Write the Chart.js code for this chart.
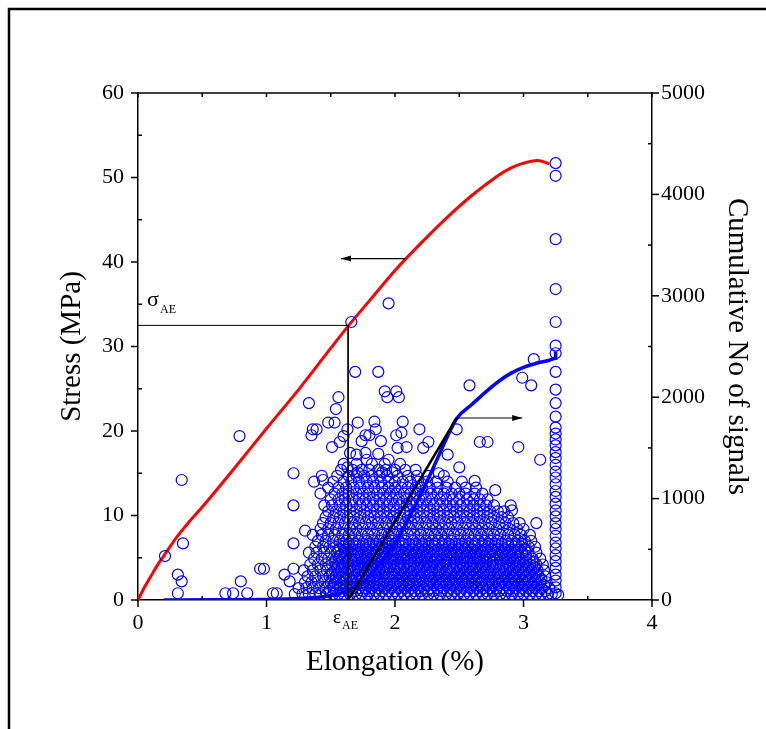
<!DOCTYPE html>
<html>
<head>
<meta charset="utf-8">
<script src="https://cdn.jsdelivr.net/npm/chart.js@4.4.1/dist/chart.umd.min.js"></script>
<style>
html, body { margin: 0; padding: 0; background: #fff; }
</style>
</head>
<body>
<canvas id="chart" width="766" height="729"></canvas>
<script>
// axes
const x_ticks = [0, 1, 2, 3, 4];
const x_minor = [0.5, 1.5, 2.5, 3.5];
const stress_ticks = [0, 10, 20, 30, 40, 50, 60];
const stress_minor = [5, 15, 25, 35, 45, 55];
const count_ticks = [0, 1000, 2000, 3000, 4000, 5000];
const count_minor = [500, 1500, 2500, 3500, 4500];

// stress curve (left axis)
const stress_x = [0, 0.05, 0.1, 0.15, 0.2, 0.3, 0.4, 0.5, 0.75, 1.0, 1.25, 1.5, 1.64, 1.8, 2.0, 2.2, 2.4, 2.6, 2.8, 2.9, 3.0, 3.1, 3.15, 3.2];
const stress_y = [0, 1.5, 2.8, 4.1, 5.2, 7.4, 9.3, 11.0, 15.6, 20.3, 24.9, 29.8, 32.5, 35.4, 39.0, 42.2, 45.2, 47.9, 50.2, 51.1, 51.7, 52.0, 51.9, 51.6];

// cumulative number of signals (right axis)
const cum_x = [0.2, 0.6, 1.0, 1.2, 1.4, 1.5, 1.6, 1.7, 1.8, 1.9, 2.0, 2.1, 2.2, 2.3, 2.4, 2.48, 2.6, 2.7, 2.8, 2.9, 3.0, 3.1, 3.2, 3.25, 3.25];
const cum_y = [0, 2, 6, 12, 28, 45, 75, 120, 230, 380, 560, 790, 1040, 1310, 1590, 1790, 1930, 2045, 2150, 2235, 2295, 2335, 2365, 2385, 2450];

// onset of AE
const eps_ae = 1.635;
const sigma_ae = 32.5;
const tangent_x = [eps_ae, 2.48];
const tangent_y = [0, 1795];

// arrows: [x_from, x_to, y]
const arrow_stress = [2.08, 1.58, 40.4];
const arrow_count = [2.48, 2.99, 1795];

// AE signals, isolated ones
const signal_pairs = [
	[0.21, 5.2], [0.35, 6.7], [0.34, 14.2], [0.31, 3.0], [0.34, 2.2], [0.31, 0.8], [0.68, 0.8], [0.74, 0.8],
	[0.85, 0.8], [0.80, 2.2], [0.79, 19.4], [0.95, 3.7], [0.98, 3.7], [1.05, 0.8], [1.08, 0.8], [1.14, 3.0],
	[1.18, 2.2], [1.21, 3.7], [1.21, 6.7], [1.21, 11.2], [1.21, 15.0], [1.33, 23.3], [1.56, 24.0], [1.54, 22.6],
	[1.48, 21.0], [1.53, 21.0], [1.36, 20.2], [1.35, 19.5], [1.39, 20.2], [1.51, 18.1], [1.57, 18.7], [1.60, 19.4],
	[1.63, 20.2], [1.69, 27.0], [1.87, 27.0], [1.66, 32.9], [1.95, 35.1], [1.71, 21.0], [1.84, 21.1], [1.85, 20.2],
	[1.77, 19.5], [1.74, 18.8], [1.80, 19.5], [1.89, 18.8], [1.92, 24.7], [2.01, 24.7], [1.94, 24.0], [2.03, 24.0],
	[2.06, 21.1], [2.01, 19.5], [2.05, 19.8], [2.02, 18.0], [2.09, 18.1], [2.19, 20.2], [2.26, 18.7], [2.22, 18.0],
	[2.48, 20.2], [2.66, 18.7], [2.72, 18.7], [2.96, 18.1], [3.13, 16.6], [2.58, 25.4], [2.99, 26.3], [3.06, 25.4],
	[3.08, 28.5], [2.41, 17.2], [2.50, 15.7], [1.65, 17.4], [1.70, 17.2], [1.77, 17.4], [1.87, 17.3], [1.78, 16.6],
	[1.95, 16.6], [1.63, 15.7], [1.71, 15.1], [1.90, 15.1], [1.98, 15.1], [2.90, 11.2], [2.91, 10.6], [3.10, 9.1],
	[3.27, 0.6], [1.44, 14.2], [1.30, 8.2], [2.34, 15.0], [2.62, 14.1], [2.78, 13.0]
];

// column of signals at failure
const failure_x = 3.25;
const failure_y = [51.7, 50.2, 42.7, 36.8, 32.9, 30.1, 29.2, 27.0, 24.9, 23.3, 21.7, 20.4, 19.7, 19.0, 18.3, 17.5,
	16.8, 16.0, 15.2, 14.5, 13.7, 12.9, 12.2, 11.4, 10.6, 9.9, 9.1, 8.4, 7.6, 6.8, 6.1, 5.3, 4.6, 3.8, 3.0, 2.3, 1.5, 0.8];

// dense cloud, read row by row
const row_levels = [0.7, 1.4, 2.1, 2.8, 3.5, 4.2, 4.9, 5.6, 6.3, 7.0, 7.7, 8.4, 9.1, 9.8, 10.5, 11.2, 11.9, 12.6, 13.3, 14.0, 14.7, 15.4, 16.1,
	1.05, 1.75, 2.45, 3.15, 3.85, 4.55, 5.25, 5.95, 6.65];
const row_x = [
	[1.22, 1.28, 1.33, 1.38, 1.42, 1.47, 1.52, 1.56, 1.6, 1.65, 1.7, 1.74, 1.79, 1.84, 1.88, 1.93, 1.98, 2.02, 2.07, 2.12, 2.16, 2.21, 2.26, 2.3, 2.35, 2.4, 2.44, 2.49, 2.54, 2.58, 2.63, 2.68, 2.72, 2.77, 2.82, 2.86, 2.91, 2.96, 3.0, 3.05, 3.1, 3.14, 3.19, 3.22],
	[1.25, 1.31, 1.36, 1.41, 1.46, 1.52, 1.57, 1.62, 1.67, 1.72, 1.77, 1.82, 1.87, 1.92, 1.97, 2.03, 2.08, 2.13, 2.18, 2.23, 2.28, 2.33, 2.38, 2.43, 2.48, 2.53, 2.59, 2.64, 2.69, 2.74, 2.79, 2.84, 2.89, 2.94, 2.99, 3.04, 3.09, 3.14, 3.2],
	[1.3, 1.35, 1.4, 1.45, 1.5, 1.55, 1.6, 1.66, 1.71, 1.76, 1.81, 1.86, 1.91, 1.96, 2.01, 2.06, 2.11, 2.17, 2.22, 2.27, 2.32, 2.37, 2.42, 2.47, 2.52, 2.57, 2.62, 2.67, 2.73, 2.78, 2.83, 2.88, 2.93, 2.98, 3.03, 3.08, 3.13, 3.18],
	[1.32, 1.38, 1.44, 1.49, 1.54, 1.59, 1.64, 1.69, 1.74, 1.8, 1.85, 1.9, 1.95, 2.0, 2.05, 2.1, 2.15, 2.2, 2.26, 2.31, 2.36, 2.41, 2.46, 2.51, 2.56, 2.61, 2.66, 2.72, 2.77, 2.82, 2.87, 2.92, 2.97, 3.02, 3.07, 3.12, 3.17],
	[1.29, 1.36, 1.42, 1.47, 1.53, 1.58, 1.63, 1.68, 1.73, 1.78, 1.83, 1.88, 1.93, 1.99, 2.04, 2.09, 2.14, 2.19, 2.24, 2.29, 2.34, 2.4, 2.45, 2.5, 2.55, 2.6, 2.65, 2.7, 2.75, 2.81, 2.86, 2.91, 2.96, 3.01, 3.06, 3.11, 3.16],
	[1.34, 1.4, 1.46, 1.51, 1.56, 1.61, 1.66, 1.72, 1.77, 1.82, 1.87, 1.92, 1.97, 2.02, 2.07, 2.12, 2.18, 2.23, 2.28, 2.33, 2.38, 2.43, 2.48, 2.53, 2.59, 2.64, 2.69, 2.74, 2.79, 2.84, 2.89, 2.95, 3.0, 3.05, 3.1, 3.15],
	[1.37, 1.43, 1.48, 1.54, 1.59, 1.64, 1.69, 1.74, 1.79, 1.84, 1.9, 1.95, 2.0, 2.05, 2.1, 2.15, 2.2, 2.25, 2.31, 2.36, 2.41, 2.46, 2.51, 2.56, 2.61, 2.66, 2.71, 2.77, 2.82, 2.87, 2.92, 2.97, 3.02, 3.07, 3.13],
	[1.33, 1.39, 1.45, 1.5, 1.55, 1.61, 1.66, 1.71, 1.76, 1.81, 1.86, 1.92, 1.97, 2.02, 2.07, 2.12, 2.17, 2.22, 2.27, 2.33, 2.38, 2.43, 2.48, 2.53, 2.58, 2.63, 2.68, 2.74, 2.79, 2.84, 2.89, 2.94, 2.99, 3.04, 3.1],
	[1.38, 1.44, 1.49, 1.54, 1.6, 1.65, 1.7, 1.75, 1.8, 1.85, 1.9, 1.96, 2.01, 2.06, 2.11, 2.16, 2.21, 2.26, 2.31, 2.37, 2.42, 2.47, 2.52, 2.57, 2.62, 2.67, 2.72, 2.78, 2.83, 2.88, 2.93, 2.98, 3.04, 3.09],
	[1.4, 1.46, 1.52, 1.57, 1.62, 1.67, 1.72, 1.78, 1.83, 1.88, 1.93, 1.98, 2.03, 2.08, 2.14, 2.19, 2.24, 2.29, 2.34, 2.39, 2.44, 2.5, 2.55, 2.6, 2.65, 2.7, 2.75, 2.8, 2.86, 2.91, 2.96, 3.01, 3.06],
	[1.36, 1.43, 1.48, 1.53, 1.59, 1.64, 1.69, 1.74, 1.79, 1.84, 1.9, 1.95, 2.0, 2.05, 2.1, 2.15, 2.2, 2.26, 2.31, 2.36, 2.41, 2.46, 2.51, 2.57, 2.62, 2.67, 2.72, 2.77, 2.82, 2.88, 2.93, 2.98, 3.05],
	[1.42, 1.48, 1.54, 1.6, 1.65, 1.7, 1.75, 1.81, 1.86, 1.91, 1.96, 2.01, 2.06, 2.12, 2.17, 2.22, 2.27, 2.32, 2.37, 2.42, 2.48, 2.53, 2.58, 2.63, 2.68, 2.73, 2.79, 2.84, 2.89, 2.95, 3.0],
	[1.44, 1.5, 1.56, 1.61, 1.67, 1.72, 1.77, 1.82, 1.87, 1.93, 1.98, 2.03, 2.08, 2.13, 2.18, 2.24, 2.29, 2.34, 2.39, 2.44, 2.49, 2.55, 2.6, 2.65, 2.7, 2.75, 2.81, 2.86, 2.92, 2.97],
	[1.46, 1.52, 1.57, 1.63, 1.68, 1.73, 1.79, 1.84, 1.89, 1.94, 1.99, 2.04, 2.1, 2.15, 2.2, 2.25, 2.3, 2.35, 2.41, 2.46, 2.51, 2.56, 2.61, 2.66, 2.72, 2.77, 2.83, 2.88],
	[1.48, 1.54, 1.6, 1.65, 1.7, 1.76, 1.81, 1.86, 1.91, 1.96, 2.01, 2.07, 2.12, 2.17, 2.22, 2.27, 2.33, 2.38, 2.43, 2.48, 2.53, 2.58, 2.64, 2.69, 2.74, 2.8, 2.85],
	[1.45, 1.51, 1.57, 1.62, 1.67, 1.73, 1.78, 1.83, 1.88, 1.94, 1.99, 2.04, 2.09, 2.14, 2.2, 2.25, 2.3, 2.35, 2.4, 2.45, 2.51, 2.56, 2.61, 2.66, 2.71, 2.77],
	[1.5, 1.56, 1.61, 1.67, 1.72, 1.77, 1.83, 1.88, 1.93, 1.98, 2.03, 2.09, 2.14, 2.19, 2.24, 2.29, 2.35, 2.4, 2.45, 2.5, 2.56, 2.61, 2.66, 2.72],
	[1.42, 1.53, 1.59, 1.64, 1.7, 1.75, 1.8, 1.86, 1.91, 1.96, 2.01, 2.07, 2.12, 2.17, 2.22, 2.28, 2.33, 2.38, 2.44, 2.5, 2.55, 2.62, 2.68],
	[1.48, 1.56, 1.62, 1.68, 1.73, 1.79, 1.84, 1.9, 1.95, 2.0, 2.05, 2.1, 2.16, 2.21, 2.27, 2.33, 2.4, 2.47, 2.55, 2.63],
	[1.37, 1.52, 1.6, 1.66, 1.72, 1.78, 1.83, 1.89, 1.95, 2.0, 2.06, 2.12, 2.18, 2.25, 2.32, 2.41, 2.52],
	[1.43, 1.55, 1.64, 1.7, 1.76, 1.82, 1.88, 1.94, 2.02, 2.1, 2.17, 2.26, 2.38],
	[1.58, 1.67, 1.74, 1.8, 1.87, 1.93, 2.0, 2.08, 2.16],
	[1.6, 1.7, 1.82, 1.92, 2.04],
	// in-between rows of the densest part
	[1.49, 1.54, 1.59, 1.64, 1.69, 1.75, 1.8, 1.85, 1.9, 1.95, 2.0, 2.05, 2.1, 2.15, 2.2, 2.25, 2.3, 2.36, 2.41, 2.46, 2.51, 2.56, 2.61, 2.66, 2.71, 2.76, 2.81, 2.87, 2.92, 2.97, 3.02, 3.07, 3.12, 3.17],
	[1.52, 1.57, 1.62, 1.68, 1.73, 1.78, 1.83, 1.88, 1.94, 1.99, 2.04, 2.09, 2.14, 2.19, 2.25, 2.3, 2.35, 2.4, 2.45, 2.5, 2.55, 2.6, 2.65, 2.71, 2.76, 2.81, 2.86, 2.91, 2.96, 3.01, 3.06, 3.11, 3.16],
	[1.54, 1.6, 1.65, 1.7, 1.75, 1.8, 1.86, 1.91, 1.96, 2.01, 2.06, 2.11, 2.16, 2.21, 2.27, 2.32, 2.37, 2.42, 2.47, 2.52, 2.57, 2.63, 2.68, 2.73, 2.78, 2.83, 2.88, 2.93, 2.99, 3.04, 3.09, 3.14],
	[1.51, 1.56, 1.62, 1.67, 1.72, 1.77, 1.82, 1.87, 1.92, 1.98, 2.03, 2.08, 2.13, 2.18, 2.23, 2.28, 2.34, 2.39, 2.44, 2.49, 2.54, 2.59, 2.64, 2.69, 2.74, 2.8, 2.85, 2.9, 2.95, 3.0, 3.05, 3.1],
	[1.55, 1.6, 1.65, 1.71, 1.76, 1.81, 1.86, 1.91, 1.96, 2.02, 2.07, 2.12, 2.17, 2.22, 2.27, 2.32, 2.37, 2.43, 2.48, 2.53, 2.58, 2.63, 2.68, 2.73, 2.78, 2.84, 2.89, 2.94, 2.99, 3.04, 3.09],
	[1.53, 1.58, 1.63, 1.68, 1.74, 1.79, 1.84, 1.89, 1.94, 1.99, 2.04, 2.1, 2.15, 2.2, 2.25, 2.3, 2.35, 2.4, 2.46, 2.51, 2.56, 2.61, 2.66, 2.71, 2.76, 2.82, 2.87, 2.92, 2.97, 3.02, 3.08],
	[1.57, 1.62, 1.68, 1.73, 1.78, 1.83, 1.88, 1.93, 1.99, 2.04, 2.09, 2.14, 2.19, 2.24, 2.29, 2.35, 2.4, 2.45, 2.5, 2.55, 2.6, 2.65, 2.7, 2.76, 2.81, 2.86, 2.91, 2.96, 3.02],
	[1.56, 1.61, 1.66, 1.71, 1.77, 1.82, 1.87, 1.92, 1.97, 2.02, 2.08, 2.13, 2.18, 2.23, 2.28, 2.33, 2.38, 2.44, 2.49, 2.54, 2.59, 2.64, 2.69, 2.75, 2.8, 2.85, 2.9, 2.95, 3.01],
	[1.59, 1.64, 1.69, 1.75, 1.8, 1.85, 1.9, 1.95, 2.0, 2.06, 2.11, 2.16, 2.21, 2.26, 2.31, 2.37, 2.42, 2.47, 2.52, 2.57, 2.62, 2.68, 2.73, 2.78, 2.83, 2.88, 2.94, 2.99]
];

// build point lists
const toPoints = (xs, ys) => xs.map((x, i) => ({ x: x, y: ys[i] }));
let signal_points = signal_pairs.map((p) => ({ x: p[0], y: p[1] }));
failure_y.forEach((y) => signal_points.push({ x: failure_x, y: y }));
row_levels.forEach((y, i) => {
	row_x[i].forEach((x) => signal_points.push({ x: x, y: y }));
});

const serif = "'Liberation Serif', 'DejaVu Serif', serif";

// ticks, frame, arrows, labels
const extras = {
	id: "extras",
	afterDatasetsDraw(chart) {
		const { ctx, chartArea: a, scales } = chart;
		const xs = scales.x, ys = scales.y, yc = scales.y1;
		const line = (x1, y1, x2, y2) => {
			ctx.beginPath();
			ctx.moveTo(x1, y1);
			ctx.lineTo(x2, y2);
			ctx.stroke();
		};
		ctx.save();
		ctx.strokeStyle = "#000";
		ctx.fillStyle = "#000";

		// outer frame
		ctx.lineWidth = 2.5;
		ctx.beginPath();
		ctx.moveTo(9, 729);
		ctx.lineTo(9, 9);
		ctx.lineTo(766, 9);
		ctx.stroke();

		// top border of plot
		ctx.lineWidth = 1.5;
		line(a.left, a.top, a.right, a.top);

		// tick marks
		x_ticks.forEach((v) => {
			const p = xs.getPixelForValue(v);
			line(p, a.bottom, p, a.bottom + 7);
			line(p, a.top, p, a.top + 4);
		});
		x_minor.forEach((v) => {
			const p = xs.getPixelForValue(v);
			line(p, a.bottom, p, a.bottom - 4);
			line(p, a.top, p, a.top + 4);
		});
		stress_ticks.forEach((v) => {
			const p = ys.getPixelForValue(v);
			line(a.left - 7, p, a.left, p);
		});
		stress_minor.forEach((v) => {
			const p = ys.getPixelForValue(v);
			line(a.left, p, a.left + 4, p);
		});
		count_ticks.forEach((v) => {
			const p = yc.getPixelForValue(v);
			line(a.right, p, a.right + 7, p);
		});
		count_minor.forEach((v) => {
			const p = yc.getPixelForValue(v);
			line(a.right - 4, p, a.right, p);
		});

		// arrows
		const arrow = (x1, x2, py) => {
			ctx.lineWidth = 1.2;
			line(x1, py, x2, py);
			const dir = x2 > x1 ? 1 : -1;
			ctx.beginPath();
			ctx.moveTo(x2, py);
			ctx.lineTo(x2 - dir * 10, py - 3);
			ctx.lineTo(x2 - dir * 10, py + 3);
			ctx.closePath();
			ctx.fill();
		};
		arrow(xs.getPixelForValue(arrow_stress[0]), xs.getPixelForValue(arrow_stress[1]), ys.getPixelForValue(arrow_stress[2]));
		arrow(xs.getPixelForValue(arrow_count[0]), xs.getPixelForValue(arrow_count[1]), yc.getPixelForValue(arrow_count[2]));

		// sigma_AE and epsilon_AE labels
		ctx.textBaseline = "alphabetic";
		ctx.textAlign = "left";
		const sx = xs.getPixelForValue(0.07), sy = ys.getPixelForValue(34.8);
		ctx.font = "22px " + serif;
		ctx.fillText("σ", sx, sy);
		ctx.font = "12px " + serif;
		ctx.fillText("AE", sx + 13, sy + 7);
		const ex = xs.getPixelForValue(eps_ae) - 15, ey = a.bottom + 23;
		ctx.font = "19px " + serif;
		ctx.fillText("ε", ex, ey);
		ctx.font = "12px " + serif;
		ctx.fillText("AE", ex + 9, ey + 6);
		ctx.restore();
	},
};

const plain = (v) => String(v);

const ctx = document.getElementById("chart").getContext("2d");
const my_chart = new Chart(ctx, {
	type: "scatter",
	data: {
		datasets: [
			{
				label: "Onset lines",
				data: [{ x: 0, y: sigma_ae }, { x: eps_ae, y: sigma_ae }, { x: eps_ae, y: 0 }],
				showLine: true,
				borderColor: "#000",
				borderWidth: 1,
				pointRadius: 0,
				yAxisID: "y",
				order: 0,
			},
			{
				label: "Tangent",
				data: toPoints(tangent_x, tangent_y),
				showLine: true,
				borderColor: "#000",
				borderWidth: 2.5,
				pointRadius: 0,
				yAxisID: "y1",
				order: 1,
			},
			{
				label: "Cumulative No of signals",
				data: toPoints(cum_x, cum_y),
				showLine: true,
				borderColor: "#0000ff",
				borderWidth: 3.5,
				pointRadius: 0,
				cubicInterpolationMode: "monotone",
				yAxisID: "y1",
				order: 2,
			},
			{
				label: "AE signals",
				data: signal_points,
				showLine: false,
				borderColor: "#0000ff",
				backgroundColor: "rgba(0,0,0,0)",
				borderWidth: 1.2,
				pointRadius: 5.5,
				yAxisID: "y",
				order: 3,
			},
			{
				label: "Stress",
				data: toPoints(stress_x, stress_y),
				showLine: true,
				borderColor: "#ff0000",
				borderWidth: 3,
				pointRadius: 0,
				tension: 0.3,
				yAxisID: "y",
				order: 4,
			},
		],
	},
	options: {
		responsive: false,
		animation: false,
		events: [],
		layout: { padding: { top: 93, left: 0, right: 0, bottom: 0 } },
		plugins: { legend: { display: false }, tooltip: { enabled: false } },
		scales: {
			x: {
				type: "linear",
				position: "bottom",
				min: 0,
				max: 4,
				afterBuildTicks: (s) => { s.ticks = x_ticks.map((v) => ({ value: v })); },
				afterFit: (s) => { s.height = 129; },
				grid: { display: true, drawOnChartArea: false, drawTicks: false },
				border: { display: true, color: "#000", width: 1.5 },
				ticks: { color: "#000", font: { family: serif, size: 22 }, padding: 10, maxRotation: 0, callback: plain },
				title: { display: true, text: "Elongation (%)", color: "#000", font: { family: serif, size: 29 }, padding: { top: 0, bottom: 49 } },
			},
			y: {
				type: "linear",
				position: "left",
				min: 0,
				max: 60,
				afterBuildTicks: (s) => { s.ticks = stress_ticks.map((v) => ({ value: v })); },
				afterFit: (s) => { s.width = 138; },
				grid: { display: true, drawOnChartArea: false, drawTicks: false },
				border: { display: true, color: "#000", width: 1.5 },
				ticks: { color: "#000", font: { family: serif, size: 22 }, padding: 14, callback: plain },
				title: { display: true, text: "Stress (MPa)", color: "#000", font: { family: serif, size: 29 }, padding: { top: 55, bottom: 0 } },
			},
			y1: {
				type: "linear",
				position: "right",
				min: 0,
				max: 5000,
				afterBuildTicks: (s) => { s.ticks = count_ticks.map((v) => ({ value: v })); },
				afterFit: (s) => { s.width = 114; },
				grid: { display: true, drawOnChartArea: false, drawTicks: false },
				border: { display: true, color: "#000", width: 1.5 },
				ticks: { color: "#000", font: { family: serif, size: 22 }, padding: 9, callback: plain },
				title: { display: true, text: "Cumulative No of signals", color: "#000", font: { family: serif, size: 29 }, padding: { top: 12, bottom: 0 } },
			},
		},
	},
	plugins: [extras],
});
</script>
</body>
</html>
